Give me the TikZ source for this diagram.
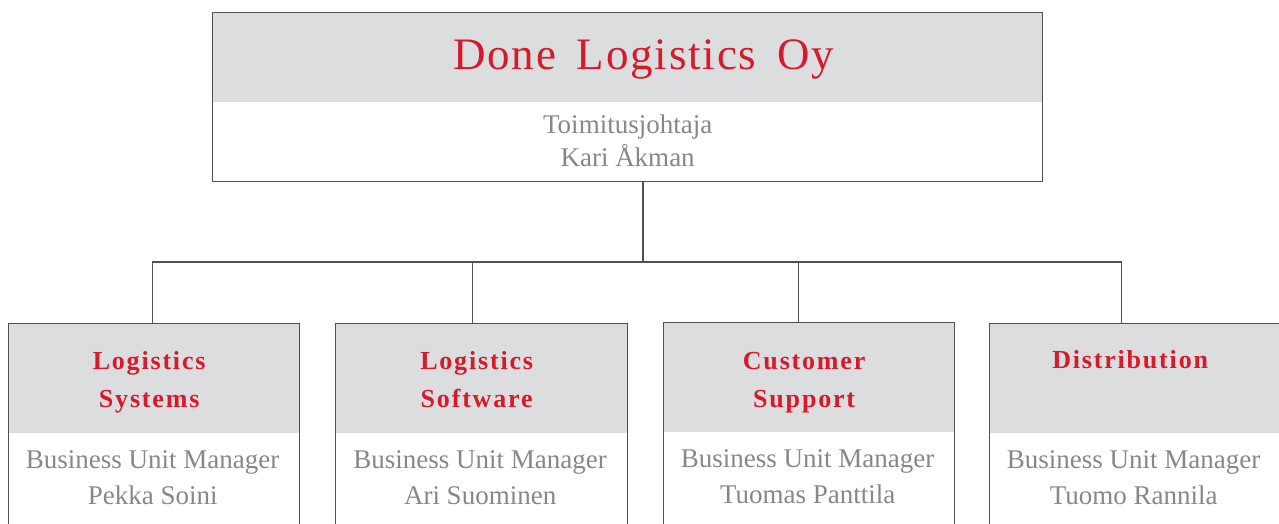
\documentclass[tikz,border=0pt]{standalone}
\usepackage{fontspec}
\setmainfont{Liberation Serif}
\newfontfamily\titlefont[LetterSpace=4,WordSpace=1.6]{Liberation Serif}
\newfontfamily\headfont[LetterSpace=7]{Liberation Serif}
\usepackage{xcolor}
\usetikzlibrary{positioning}
\definecolor{OrgRed}{HTML}{D71A2B}
\definecolor{OrgGray}{HTML}{87878A}
\definecolor{HeadGray}{HTML}{DCDDDF}
\definecolor{LineGray}{HTML}{505050}

\tikzset{
  orgbox/.style={draw=LineGray, line width=1.3pt, anchor=north west, inner sep=0pt,
    path picture={\fill[HeadGray] (path picture bounding box.north west)
      rectangle ([yshift=-#1]path picture bounding box.north east);}},
  link/.style={draw=LineGray, line width=1.3pt},
  title/.style={anchor=base, text=OrgRed, font=\titlefont\fontsize{45}{50}\selectfont},
  unitname/.style={anchor=base, align=center, text=OrgRed,
    font=\headfont\bfseries\fontsize{26}{38}\selectfont},
  staff/.style={anchor=base, align=center, text=OrgGray, font=\fontsize{27}{36}\selectfont},
}

\begin{document}
\begin{tikzpicture}[x=1pt,y=-1pt]
    \clip (0,0) rectangle (1279,523);

    % company
    \node[orgbox=89pt, minimum width=830pt, minimum height=169pt] (company) at (212,12) {};
    \node[title] (companyname) at ([xshift=16pt,yshift=-57pt]company.north) {Done Logistics Oy};
    \node[staff, font=\fontsize{27}{33}\selectfont] (ceo) at ([yshift=-154pt]company.north)
        {Toimitusjohtaja\\Kari Åkman};

    % business units
    \node[orgbox=109pt, minimum width=291pt, minimum height=220pt] (unit1) at (8,323) {};
    \node[orgbox=109pt, minimum width=292pt, minimum height=220pt] (unit2) at (335,323) {};
    \node[orgbox=109pt, minimum width=291pt, minimum height=220pt] (unit3) at (663,322) {};
    \node[orgbox=109pt, minimum width=291pt, minimum height=220pt] (unit4) at (989,323) {};

    \node[unitname] (unit1name) at ([xshift=-5pt,yshift=-84pt]unit1.north) {Logistics\\Systems};
    \node[unitname] (unit2name) at ([xshift=-5pt,yshift=-84pt]unit2.north) {Logistics\\Software};
    \node[unitname] (unit3name) at ([xshift=-5pt,yshift=-85pt]unit3.north) {Customer\\Support};
    \node[unitname] (unit4name) at ([xshift=-5pt,yshift=-45pt]unit4.north) {Distribution};

    \node[staff] (unit1head) at ([xshift=-1.5pt,yshift=-181pt]unit1.north) {Business Unit Manager\\Pekka Soini};
    \node[staff] (unit2head) at ([xshift=-1.5pt,yshift=-181pt]unit2.north) {Business Unit Manager\\Ari Suominen};
    \node[staff] (unit3head) at ([xshift=-1.5pt,yshift=-181pt]unit3.north) {Business Unit Manager\\Tuomas Panttila};
    \node[staff] (unit4head) at ([xshift=-1.5pt,yshift=-181pt]unit4.north) {Business Unit Manager\\Tuomo Rannila};

    % connectors
    \coordinate (hub) at (643,262);
    \draw[link] (company.south -| hub) -- (hub);
    \draw[link] (hub) -| ([xshift=-1.5pt]unit1.north);
    \draw[link] (hub) -| ([xshift=-9pt]unit2.north);
    \draw[link] (hub) -| ([xshift=-10.5pt]unit3.north);
    \draw[link] (hub) -| ([xshift=-13.5pt]unit4.north);
\end{tikzpicture}
\end{document}
